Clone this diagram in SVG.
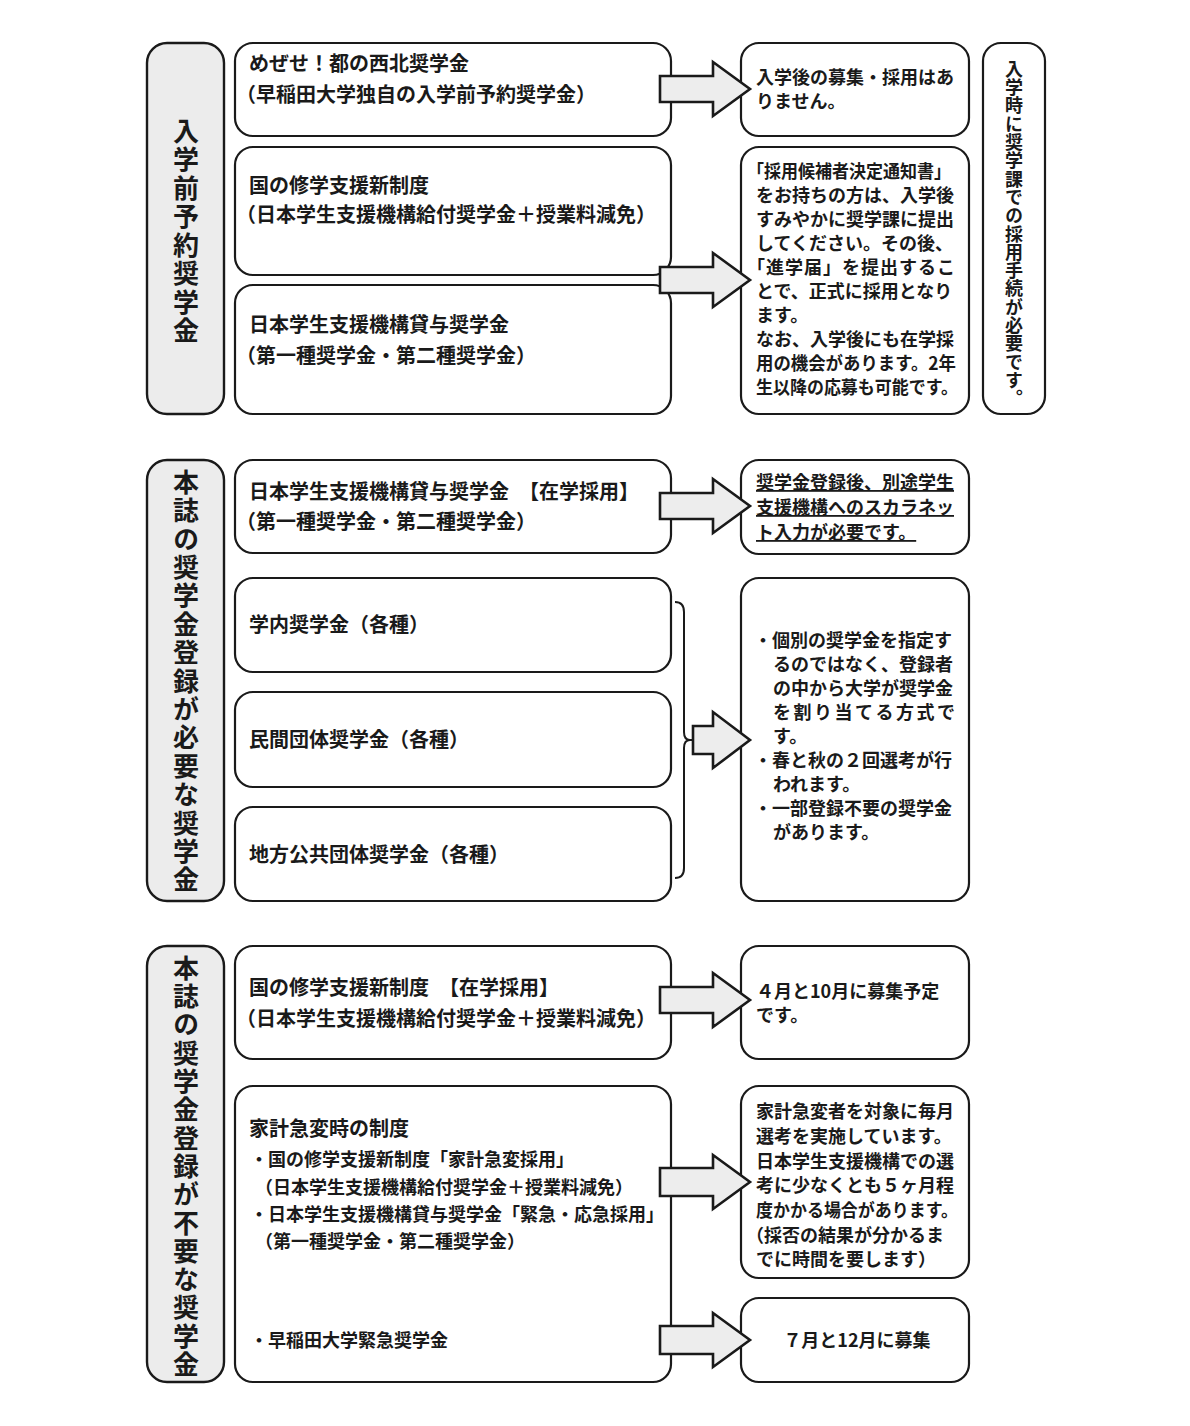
<svg xmlns="http://www.w3.org/2000/svg" width="1190" height="1426" viewBox="0 0 1190 1426">
<style>
.lbl{fill:#ececec;stroke:#1a1a1a;stroke-width:2.4}
.box{fill:#fff;stroke:#1a1a1a;stroke-width:2.2}
.arw{fill:#ededed;stroke:#1a1a1a;stroke-width:2.6;stroke-linejoin:miter}
.brace{fill:none;stroke:#1a1a1a;stroke-width:2}
text{font-family:"Noto Sans CJK JP","Noto Sans CJK SC",sans-serif;fill:#1a1a1a}
.t{font-size:20px;font-weight:700}
.s{font-size:18px;font-weight:700}
.r{font-size:18px;font-weight:700}
.v{font-size:26px;font-weight:700;writing-mode:vertical-rl;letter-spacing:2.5px}
.vr{font-size:18px;font-weight:700;writing-mode:vertical-rl;letter-spacing:0.3px}
</style>
<rect width="1190" height="1426" fill="#fff"/>

<!-- Section 1 -->
<g id="label1"><rect class="lbl" x="147" y="43" width="77" height="371" rx="20"/><text class="v" x="186" y="118">入学前予約奨学金</text></g>
<g id="box1a"><rect class="box" x="235" y="43" width="436" height="93" rx="18"/>
<text class="t" x="249" y="71">めぜせ！都の西北奨学金</text>
<text class="t" x="236" y="102">（早稲田大学独自の入学前予約奨学金）</text></g>
<g id="box1b"><rect class="box" x="235" y="147" width="436" height="128" rx="18"/>
<text class="t" x="249" y="193">国の修学支援新制度</text>
<text class="t" x="236" y="222">（日本学生支援機構給付奨学金＋授業料減免）</text></g>
<g id="box1c"><rect class="box" x="235" y="285" width="436" height="129" rx="18"/>
<text class="t" x="249" y="332">日本学生支援機構貸与奨学金</text>
<text class="t" x="236" y="363">（第一種奨学金・第二種奨学金）</text></g>
<g id="res1a"><rect class="box" x="741" y="43" width="228" height="93" rx="18"/>
<text class="r" x="756" y="84">入学後の募集・採用はあ</text>
<text class="r" x="756" y="108">りません。</text></g>
<g id="res1b"><rect class="box" x="741" y="147" width="228" height="267" rx="18"/>
<text class="r" x="747" y="178" textLength="204" lengthAdjust="spacingAndGlyphs">「採用候補者決定通知書」</text>
<text class="r" x="756" y="202">をお持ちの方は、入学後</text>
<text class="r" x="756" y="226">すみやかに奨学課に提出</text>
<text class="r" x="756" y="250">してください。その後、</text>
<text class="r" x="747" y="274" textLength="208" lengthAdjust="spacing">「進学届」を提出するこ</text>
<text class="r" x="756" y="298">とで、正式に採用となり</text>
<text class="r" x="756" y="322">ます。</text>
<text class="r" x="756" y="346">なお、入学後にも在学採</text>
<text class="r" x="756" y="370" textLength="200" lengthAdjust="spacingAndGlyphs">用の機会があります。2年</text>
<text class="r" x="756" y="394" textLength="202" lengthAdjust="spacingAndGlyphs">生以降の応募も可能です。</text></g>
<g id="note1"><rect class="box" x="983" y="43" width="62" height="371" rx="18"/><text class="vr" x="1014" y="60">入学時に奨学課での採用手続が必要です。</text></g>

<!-- Section 2 -->
<g id="label2"><rect class="lbl" x="147" y="460" width="77" height="441" rx="20"/><text class="v" x="186" y="469" style="letter-spacing:2.4px">本誌の奨学金登録が必要な奨学金</text></g>
<g id="box2a"><rect class="box" x="235" y="460" width="436" height="93" rx="18"/>
<text class="t" x="249" y="499">日本学生支援機構貸与奨学金　【在学採用】</text>
<text class="t" x="236" y="529">（第一種奨学金・第二種奨学金）</text></g>
<g id="res2a"><rect class="box" x="741" y="460" width="228" height="94" rx="18"/>
<text class="r" x="756" y="489" text-decoration="underline">奨学金登録後、別途学生</text>
<text class="r" x="756" y="514" text-decoration="underline">支援機構へのスカラネッ</text>
<text class="r" x="756" y="539" text-decoration="underline">ト入力が必要です。</text></g>
<g id="box2b"><rect class="box" x="235" y="578" width="436" height="94" rx="18"/><text class="t" x="249" y="632">学内奨学金（各種）</text></g>
<g id="box2c"><rect class="box" x="235" y="692" width="436" height="95" rx="18"/><text class="t" x="249" y="747">民間団体奨学金（各種）</text></g>
<g id="box2d"><rect class="box" x="235" y="807" width="436" height="94" rx="18"/><text class="t" x="249" y="862">地方公共団体奨学金（各種）</text></g>
<g id="res2b"><rect class="box" x="741" y="578" width="228" height="323" rx="18"/>
<text class="r" x="754" y="647">・個別の奨学金を指定す</text>
<text class="r" x="773" y="671">るのではなく、登録者</text>
<text class="r" x="773" y="695">の中から大学が奨学金</text>
<text class="r" x="773" y="719" textLength="182" lengthAdjust="spacing">を割り当てる方式で</text>
<text class="r" x="773" y="743">す。</text>
<text class="r" x="754" y="767">・春と秋の２回選考が行</text>
<text class="r" x="773" y="791">われます。</text>
<text class="r" x="754" y="815">・一部登録不要の奨学金</text>
<text class="r" x="773" y="839">があります。</text></g>

<!-- Section 3 -->
<g id="label3"><rect class="lbl" x="147" y="946" width="77" height="436" rx="20"/><text class="v" x="186" y="955" style="letter-spacing:2.3px">本誌の奨学金登録が不要な奨学金</text></g>
<g id="box3a"><rect class="box" x="235" y="946" width="436" height="113" rx="18"/>
<text class="t" x="249" y="995">国の修学支援新制度　【在学採用】</text>
<text class="t" x="236" y="1026">（日本学生支援機構給付奨学金＋授業料減免）</text></g>
<g id="res3a"><rect class="box" x="741" y="946" width="228" height="113" rx="18"/>
<text class="r" x="756" y="998">４月と10月に募集予定</text>
<text class="r" x="756" y="1022">です。</text></g>
<g id="box3b"><rect class="box" x="235" y="1086" width="436" height="296" rx="18"/>
<text class="t" x="249" y="1136">家計急変時の制度</text>
<text class="s" x="250" y="1166">・国の修学支援新制度「家計急変採用」</text>
<text class="s" x="255" y="1194">（日本学生支援機構給付奨学金＋授業料減免）</text>
<text class="s" x="250" y="1221">・日本学生支援機構貸与奨学金「緊急・応急採用」</text>
<text class="s" x="255" y="1248">（第一種奨学金・第二種奨学金）</text>
<text class="s" x="250" y="1347">・早稲田大学緊急奨学金</text></g>
<g id="res3b"><rect class="box" x="741" y="1086" width="228" height="192" rx="18"/>
<text class="r" x="756" y="1118">家計急変者を対象に毎月</text>
<text class="r" x="756" y="1143">選考を実施しています。</text>
<text class="r" x="756" y="1168">日本学生支援機構での選</text>
<text class="r" x="756" y="1192">考に少なくとも５ヶ月程</text>
<text class="r" x="756" y="1217" textLength="202" lengthAdjust="spacingAndGlyphs">度かかる場合があります。</text>
<text class="r" x="746" y="1242">（採否の結果が分かるま</text>
<text class="r" x="756" y="1266">でに時間を要します）</text></g>
<g id="res3c"><rect class="box" x="741" y="1298" width="228" height="84" rx="18"/>
<text class="r" x="857" y="1347" text-anchor="middle">７月と12月に募集</text></g>

<!-- Connectors -->
<g id="connectors">
<path class="brace" d="M675,602 Q684,602 684,612 L684,732 Q684,740 690,740 L694,740 M690,740 Q684,740 684,748 L684,868 Q684,878 675,878"/>
<path class="arw" d="M660,76 L713,76 L713,62 L750,89 L713,116 L713,102 L660,102 Z"/>
<path class="arw" d="M660,267 L713,267 L713,253 L750,280 L713,307 L713,293 L660,293 Z"/>
<path class="arw" d="M660,493 L713,493 L713,479 L750,506 L713,533 L713,519 L660,519 Z"/>
<path class="arw" d="M693,726 L713,726 L713,712 L750,740 L713,768 L713,754 L693,754 Z"/>
<path class="arw" d="M660,987 L713,987 L713,973 L750,1000 L713,1027 L713,1013 L660,1013 Z"/>
<path class="arw" d="M660,1168 L713,1168 L713,1155 L750,1182 L713,1209 L713,1196 L660,1196 Z"/>
<path class="arw" d="M660,1326 L713,1326 L713,1313 L750,1340 L713,1367 L713,1354 L660,1354 Z"/>
</g>
</svg>
